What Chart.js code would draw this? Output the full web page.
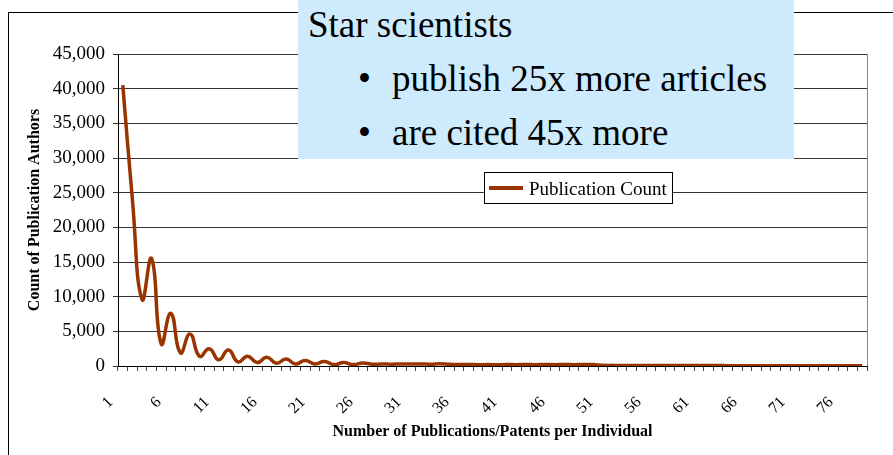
<!DOCTYPE html>
<html lang="en">
    <head>
        <title> Publication Count </title>
        <script src="https://cdn.jsdelivr.net/npm/chart.js@4.4.1/dist/chart.umd.min.js"></script>
        <style>
            body { margin: 0; overflow: hidden; background: #fff; }
            #frame { position: absolute; left: 8px; top: 12px; width: 1000px; height: 1000px; border: 1px solid #000; }
            #myChart { position: absolute; left: 0; top: 0; }
            #note {
                position: absolute; left: 298px; top: 0; width: 496px; height: 159px;
                background: #cdebfd; font-family: "Liberation Serif", "Times New Roman", Times, "DejaVu Serif", serif;
                font-size: 37px; color: #000;
            }
            #note div { position: absolute; white-space: nowrap; }
        </style>
    </head>

    <body>
        <div id="frame"></div>
        <canvas id="myChart" width="893" height="455"></canvas>
        <div id="note">
            <div style="left: 10px; top: 3px;">Star scientists</div>
            <div style="left: 60px; top: 57px;">&bull;</div>
            <div style="left: 94px; top: 57px;">publish 25x more articles</div>
            <div style="left: 60px; top: 111px;">&bull;</div>
            <div style="left: 94px; top: 111px;">are cited 45x more</div>
        </div>

        <script>

            const categories = [
                '1', '2', '3', '4', '5', '6', '7', '8', '9', '10',
                '11', '12', '13', '14', '15', '16', '17', '18', '19', '20',
                '21', '22', '23', '24', '25', '26', '27', '28', '29', '30',
                '31', '32', '33', '34', '35', '36', '37', '38', '39', '40',
                '41', '42', '43', '44', '45', '46', '47', '48', '49', '50',
                '51', '52', '53', '54', '55', '56', '57', '58', '59', '60',
                '61', '62', '63', '64', '65', '66', '67', '68', '69', '70',
                '71', '72', '73', '74', '75', '76', '77', '78'
            ];

            const publicationCount = [
                40500, 24000, 9600, 15500, 3200, 7600, 1900, 4600, 1400, 2500,
                900, 2300, 600, 1400, 500, 1250, 400, 1000, 300, 800,
                300, 650, 200, 500, 200, 450, 250, 300, 250, 300,
                280, 300, 250, 320, 250, 200, 220, 180, 200, 170,
                220, 180, 230, 190, 230, 190, 230, 190, 230, 200,
                100, 90, 90, 80, 80, 80, 70, 70, 70, 60,
                60, 60, 60, 50, 50, 50, 50, 50, 40, 40,
                40, 40, 40, 40, 30, 30, 30, 30
            ];

            const shownLabels = ['1', '6', '11', '16', '21', '26', '31', '36', '41', '46', '51', '56', '61', '66', '71', '76'];

            const yTicks = [0, 5000, 10000, 15000, 20000, 25000, 30000, 35000, 40000, 45000];

            const serif = '"Liberation Serif", "Times New Roman", Times, "DejaVu Serif", serif';

            // legend box drawn inside the plot + grey right edge of the plot area
            const boxLegend = {
                id: 'boxLegend',
                afterDraw (chart) {
                    const ctx = chart.ctx;
                    const area = chart.chartArea;
                    const ds = chart.data.datasets[0];

                    ctx.save();
                    ctx.strokeStyle = '#888';
                    ctx.lineWidth = 1;
                    ctx.beginPath();
                    ctx.moveTo(Math.round(area.right) + 0.5, area.top);
                    ctx.lineTo(Math.round(area.right) + 0.5, area.bottom);
                    ctx.stroke();

                    const x = 484, y = 172, w = 188, h = 31;
                    ctx.fillStyle = '#fff';
                    ctx.fillRect(x, y, w, h);
                    ctx.strokeStyle = '#000';
                    ctx.strokeRect(x + 0.5, y + 0.5, w, h);

                    ctx.strokeStyle = ds.borderColor;
                    ctx.lineWidth = 4;
                    ctx.beginPath();
                    ctx.moveTo(x + 5, y + 16);
                    ctx.lineTo(x + 39, y + 16);
                    ctx.stroke();

                    ctx.fillStyle = '#000';
                    ctx.font = '19px ' + serif;
                    ctx.textBaseline = 'alphabetic';
                    ctx.fillText(ds.label, x + 45, y + 23);
                    ctx.restore();
                }
            };

            const ctx = document.getElementById('myChart').getContext('2d');
            const myChart = new Chart(ctx, {
                type: 'line',
                data: {
                    labels: categories,
                    datasets: [{
                        label: 'Publication Count',
                        data: publicationCount,
                        borderColor: '#993300',
                        borderWidth: 3.5,
                        pointRadius: 0,
                        tension: 0.5,
                        fill: false
                    }]
                },
                options: {
                    responsive: false,
                    animation: false,
                    devicePixelRatio: 1,
                    layout: { padding: { left: 8, right: 26, top: 54, bottom: 0 } },
                    plugins: {
                        legend: { display: false },
                        tooltip: { enabled: false }
                    },
                    scales: {
                        x: {
                            offset: true,
                            afterFit (scale) {
                                scale.height = 89;
                                scale.paddingLeft = 0;
                                scale.paddingRight = 0;
                            },
                            border: { color: '#000', width: 1 },
                            grid: {
                                offset: true,
                                drawOnChartArea: false,
                                drawTicks: true,
                                tickLength: 5,
                                color: '#444'
                            },
                            ticks: {
                                autoSkip: false,
                                minRotation: 45,
                                maxRotation: 45,
                                padding: 22,
                                labelOffset: -12,
                                color: '#000',
                                font: { family: serif, size: 16 },
                                callback (value, index) {
                                    const lbl = categories[index];
                                    return shownLabels.includes(lbl) ? lbl : '';
                                }
                            },
                            title: {
                                display: true,
                                text: 'Number of Publications/Patents per Individual',
                                color: '#000',
                                font: { family: serif, size: 16, weight: 'bold' },
                                padding: { top: 0, bottom: 14 }
                            }
                        },
                        y: {
                            min: 0,
                            max: 45000,
                            afterFit (scale) { scale.width = 110; },
                            afterBuildTicks (scale) { scale.ticks = yTicks.map(v => ({ value: v })); },
                            border: { color: '#000', width: 1 },
                            grid: { color: '#333', lineWidth: 1, tickLength: 5 },
                            ticks: {
                                padding: 8,
                                color: '#000',
                                font: { family: serif, size: 19 },
                                callback: v => v.toLocaleString('en-US')
                            },
                            title: {
                                display: true,
                                text: 'Count of Publication Authors',
                                color: '#000',
                                font: { family: serif, size: 16, weight: 'bold' },
                                padding: { top: 17, bottom: 0 }
                            }
                        }
                    }
                },
                plugins: [boxLegend]
            });

        </script>
    </body>
</html>
